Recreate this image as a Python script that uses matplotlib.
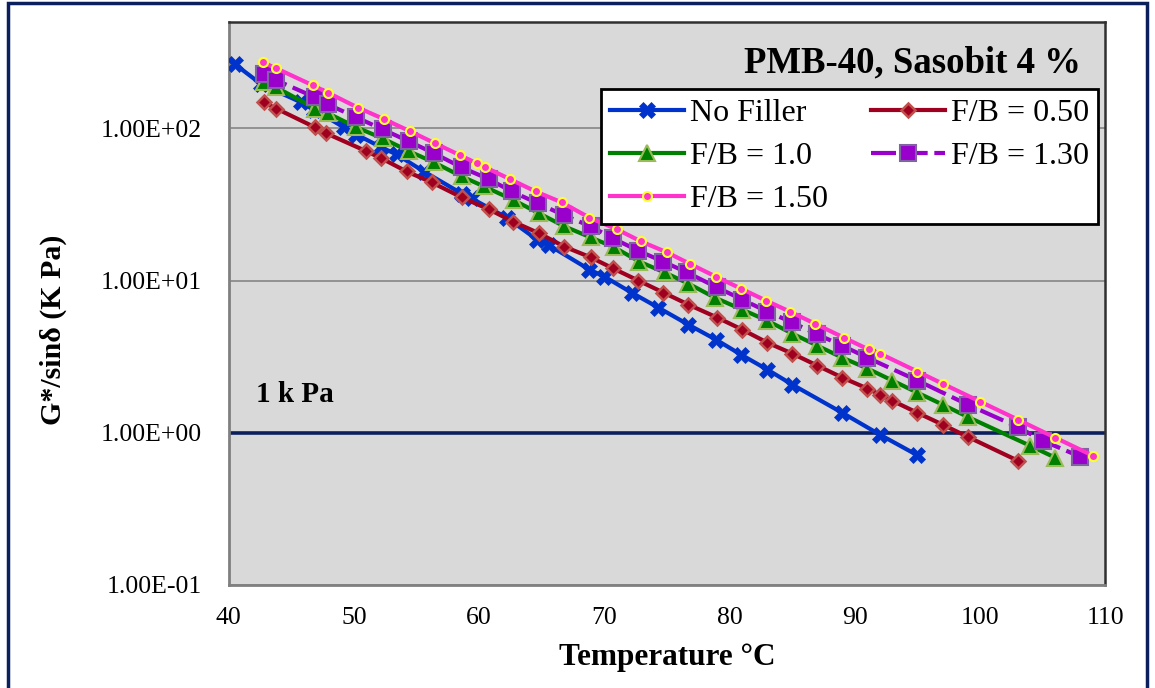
import matplotlib
matplotlib.use("Agg")
import matplotlib.pyplot as plt
from matplotlib.patches import Rectangle

plt.rcParams['font.family'] = ['Liberation Serif', 'DejaVu Serif']

# Temperature (°C) and G*/sin(delta) (kPa) for each filler ratio
temp_nf = [40.5, 42.6, 45.8, 46.8, 49.2, 50.2, 52.2, 53.4, 55.6, 58.6, 59.4, 62.2,
           64.6, 65.6, 68.8, 70.0, 72.2, 74.3, 76.7, 78.9, 80.9, 83.0, 85.0, 89.0,
           92.0, 95.0]
g_nf = [264, 195, 148, 133, 101.5, 91, 75, 67.4, 52, 37.3, 34.6, 25.9,
        18.6, 17.0, 11.8, 10.6, 8.3, 6.64, 5.13, 4.09, 3.26, 2.6, 2.07, 1.35,
        0.97, 0.71]

temp_050 = [42.8, 43.8, 46.9, 47.8, 51.0, 52.2, 54.2, 56.2, 58.6, 60.8, 62.7, 64.8,
            66.8, 68.9, 70.7, 72.7, 74.7, 76.7, 79.0, 81.0, 83.0, 85.0, 87.0, 89.0,
            91.0, 92.0, 93.0, 95.0, 97.0, 99.0, 103.0]
g_050 = [148, 135, 101.5, 92.7, 70.7, 63.5, 52.1, 44.2, 35.2, 29.3, 24.4, 20.4,
         16.7, 14.2, 12.0, 10.0, 8.34, 6.95, 5.71, 4.76, 3.91, 3.31, 2.76, 2.30,
         1.95, 1.78, 1.62, 1.35, 1.13, 0.94, 0.655]

temp_100 = [42.8, 43.8, 46.9, 47.9, 50.2, 52.3, 54.4, 56.4, 58.6, 60.4, 62.8, 64.8,
            66.8, 68.9, 70.8, 72.8, 74.8, 76.7, 78.8, 81.0, 83.0, 85.0, 87.0, 89.0,
            91.0, 93.0, 95.0, 97.0, 99.0, 104.0, 106.0]
g_100 = [201, 186, 135, 126, 101.5, 85.9, 70.7, 59.7, 48.3, 41.5, 33.6, 27.6,
         22.7, 19.2, 16.5, 13.3, 11.3, 9.55, 7.73, 6.44, 5.45, 4.48, 3.73, 3.11,
         2.64, 2.20, 1.83, 1.53, 1.27, 0.82, 0.685]

temp_130 = [42.8, 43.8, 46.9, 47.9, 50.2, 52.3, 54.4, 56.4, 58.6, 60.8, 62.6, 64.7,
            66.8, 68.9, 70.7, 72.7, 74.7, 76.6, 79.0, 81.0, 83.0, 85.0, 87.0, 89.0,
            91.0, 95.0, 99.0, 103.0, 105.0, 108.0]
g_130 = [226, 207, 160, 144, 118, 98.5, 82, 68.5, 55.4, 46.2, 38.5, 32.1,
         26.8, 22.7, 18.9, 15.7, 13.3, 11.3, 9.0, 7.5, 6.25, 5.3, 4.42, 3.73,
         3.11, 2.2, 1.53, 1.09, 0.885, 0.695]

temp_150 = [42.7, 43.8, 46.7, 47.9, 50.3, 52.4, 54.5, 56.5, 58.5, 59.8, 60.5, 62.5,
            64.5, 66.6, 68.8, 71.0, 72.9, 75.0, 76.8, 78.9, 80.9, 82.9, 84.8, 86.8,
            89.1, 91.1, 92.0, 95.0, 97.0, 100.0, 103.0, 106.0, 109.0]
g_150 = [272, 248, 192, 172, 137, 115, 95.5, 79.6, 66.4, 58.9, 55.4, 46.2,
         38.5, 32.6, 25.9, 21.7, 18.1, 15.3, 12.9, 10.6, 8.85, 7.38, 6.25, 5.21,
         4.22, 3.52, 3.31, 2.52, 2.10, 1.60, 1.22, 0.927, 0.706]

series_labels = ["No Filler", "F/B = 0.50", "F/B = 1.0", "F/B = 1.30", "F/B = 1.50"]
limit_value = 1.0
x_ticks = [40, 50, 60, 70, 80, 90, 100, 110]
y_ticks = [0.1, 1, 10, 100]
y_tick_labels = ["1.00E-01", "1.00E+00", "1.00E+01", "1.00E+02"]

fig = plt.figure(figsize=(11.55, 6.88), dpi=100)
ax = fig.add_axes([0.198, 0.150, 0.759, 0.818])
ax.set_facecolor('#D9D9D9')

# Outer frame around the whole chart
fig.patches.append(Rectangle((0.007, -0.02), 0.986, 1.015, transform=fig.transFigure,
                             fill=False, edgecolor='#0B1F5C', linewidth=2.5, zorder=0))

lw = 3.0
ax.plot(temp_nf, g_nf, color='#0033CC', lw=lw, marker='X', ms=11,
        mfc='#0033CC', mec='#0033CC', mew=0.5, label=series_labels[0], zorder=3)
ax.plot(temp_050, g_050, color='#A00020', lw=lw, marker='D', ms=7.5,
        mfc='#A00020', mec='#C0504D', mew=1.8, label=series_labels[1], zorder=4)
ax.plot(temp_100, g_100, color='#008000', lw=lw, marker='^', ms=11,
        mfc='#008000', mec='#9BBB59', mew=1.5, label=series_labels[2], zorder=5)
ax.plot(temp_130, g_130, color='#9900CC', lw=lw, ls=(0, (6, 1.6)), marker='s', ms=11,
        mfc='#9900CC', mec='#8064A2', mew=1.5, label=series_labels[3], zorder=6)
ax.plot(temp_150, g_150, color='#FF33CC', lw=lw, marker='o', ms=6.5,
        mfc='#FF33CC', mec='#FFFF33', mew=1.5, label=series_labels[4], zorder=7)

# 1 kPa criterion line
ax.axhline(limit_value, color='#0B1F5C', lw=2.6, zorder=2)
ax.text(42.2, 1.78, "1 k Pa", fontsize=21, fontweight='bold', va='center', ha='left')

ax.set_yscale('log')
ax.set_xlim(40, 110)
ax.set_ylim(0.1, 500)
ax.set_xticks(x_ticks)
ax.set_xticklabels([str(t) for t in x_ticks])
ax.set_yticks(y_ticks)
ax.set_yticklabels(y_tick_labels)
ax.minorticks_off()
ax.tick_params(axis='both', length=0, labelsize=18.5)
ax.tick_params(axis='x', pad=16)
ax.tick_params(axis='y', pad=19.5)
ax.yaxis.grid(True, color='#868686', lw=1.2, zorder=1)
ax.set_axisbelow(True)

for side in ('left', 'bottom'):
    ax.spines[side].set_color('#808080')
    ax.spines[side].set_linewidth(2)
for side in ('top', 'right'):
    ax.spines[side].set_color('#303030')
    ax.spines[side].set_linewidth(1.8)

ax.set_xlabel("Temperature °C", fontsize=22.5, fontweight='bold')
ax.set_ylabel("G*/sinδ (K Pa)", fontsize=21.5, fontweight='bold')
ax.xaxis.set_label_coords(0.5, -0.103)
ax.yaxis.set_label_coords(-0.185, 0.453)

ax.text(0.972, 0.928, "PMB-40, Sasobit 4 %", transform=ax.transAxes, fontsize=26.5,
        fontweight='bold', ha='right', va='center')

handles, labels = ax.get_legend_handles_labels()
order = [0, 2, 4, 1, 3]
leg = ax.legend([handles[i] for i in order], [labels[i] for i in order],
                ncol=2, loc='upper right', bbox_to_anchor=(0.992, 0.881),
                fontsize=23, frameon=True, fancybox=False, framealpha=1,
                edgecolor='black', handlelength=2.3, handletextpad=0.19,
                columnspacing=1.35, labelspacing=0.43, borderpad=0.3,
                borderaxespad=0.0)
leg.get_frame().set_linewidth(2)
leg.set_zorder(10)

fig.savefig("out.png", dpi=100)
